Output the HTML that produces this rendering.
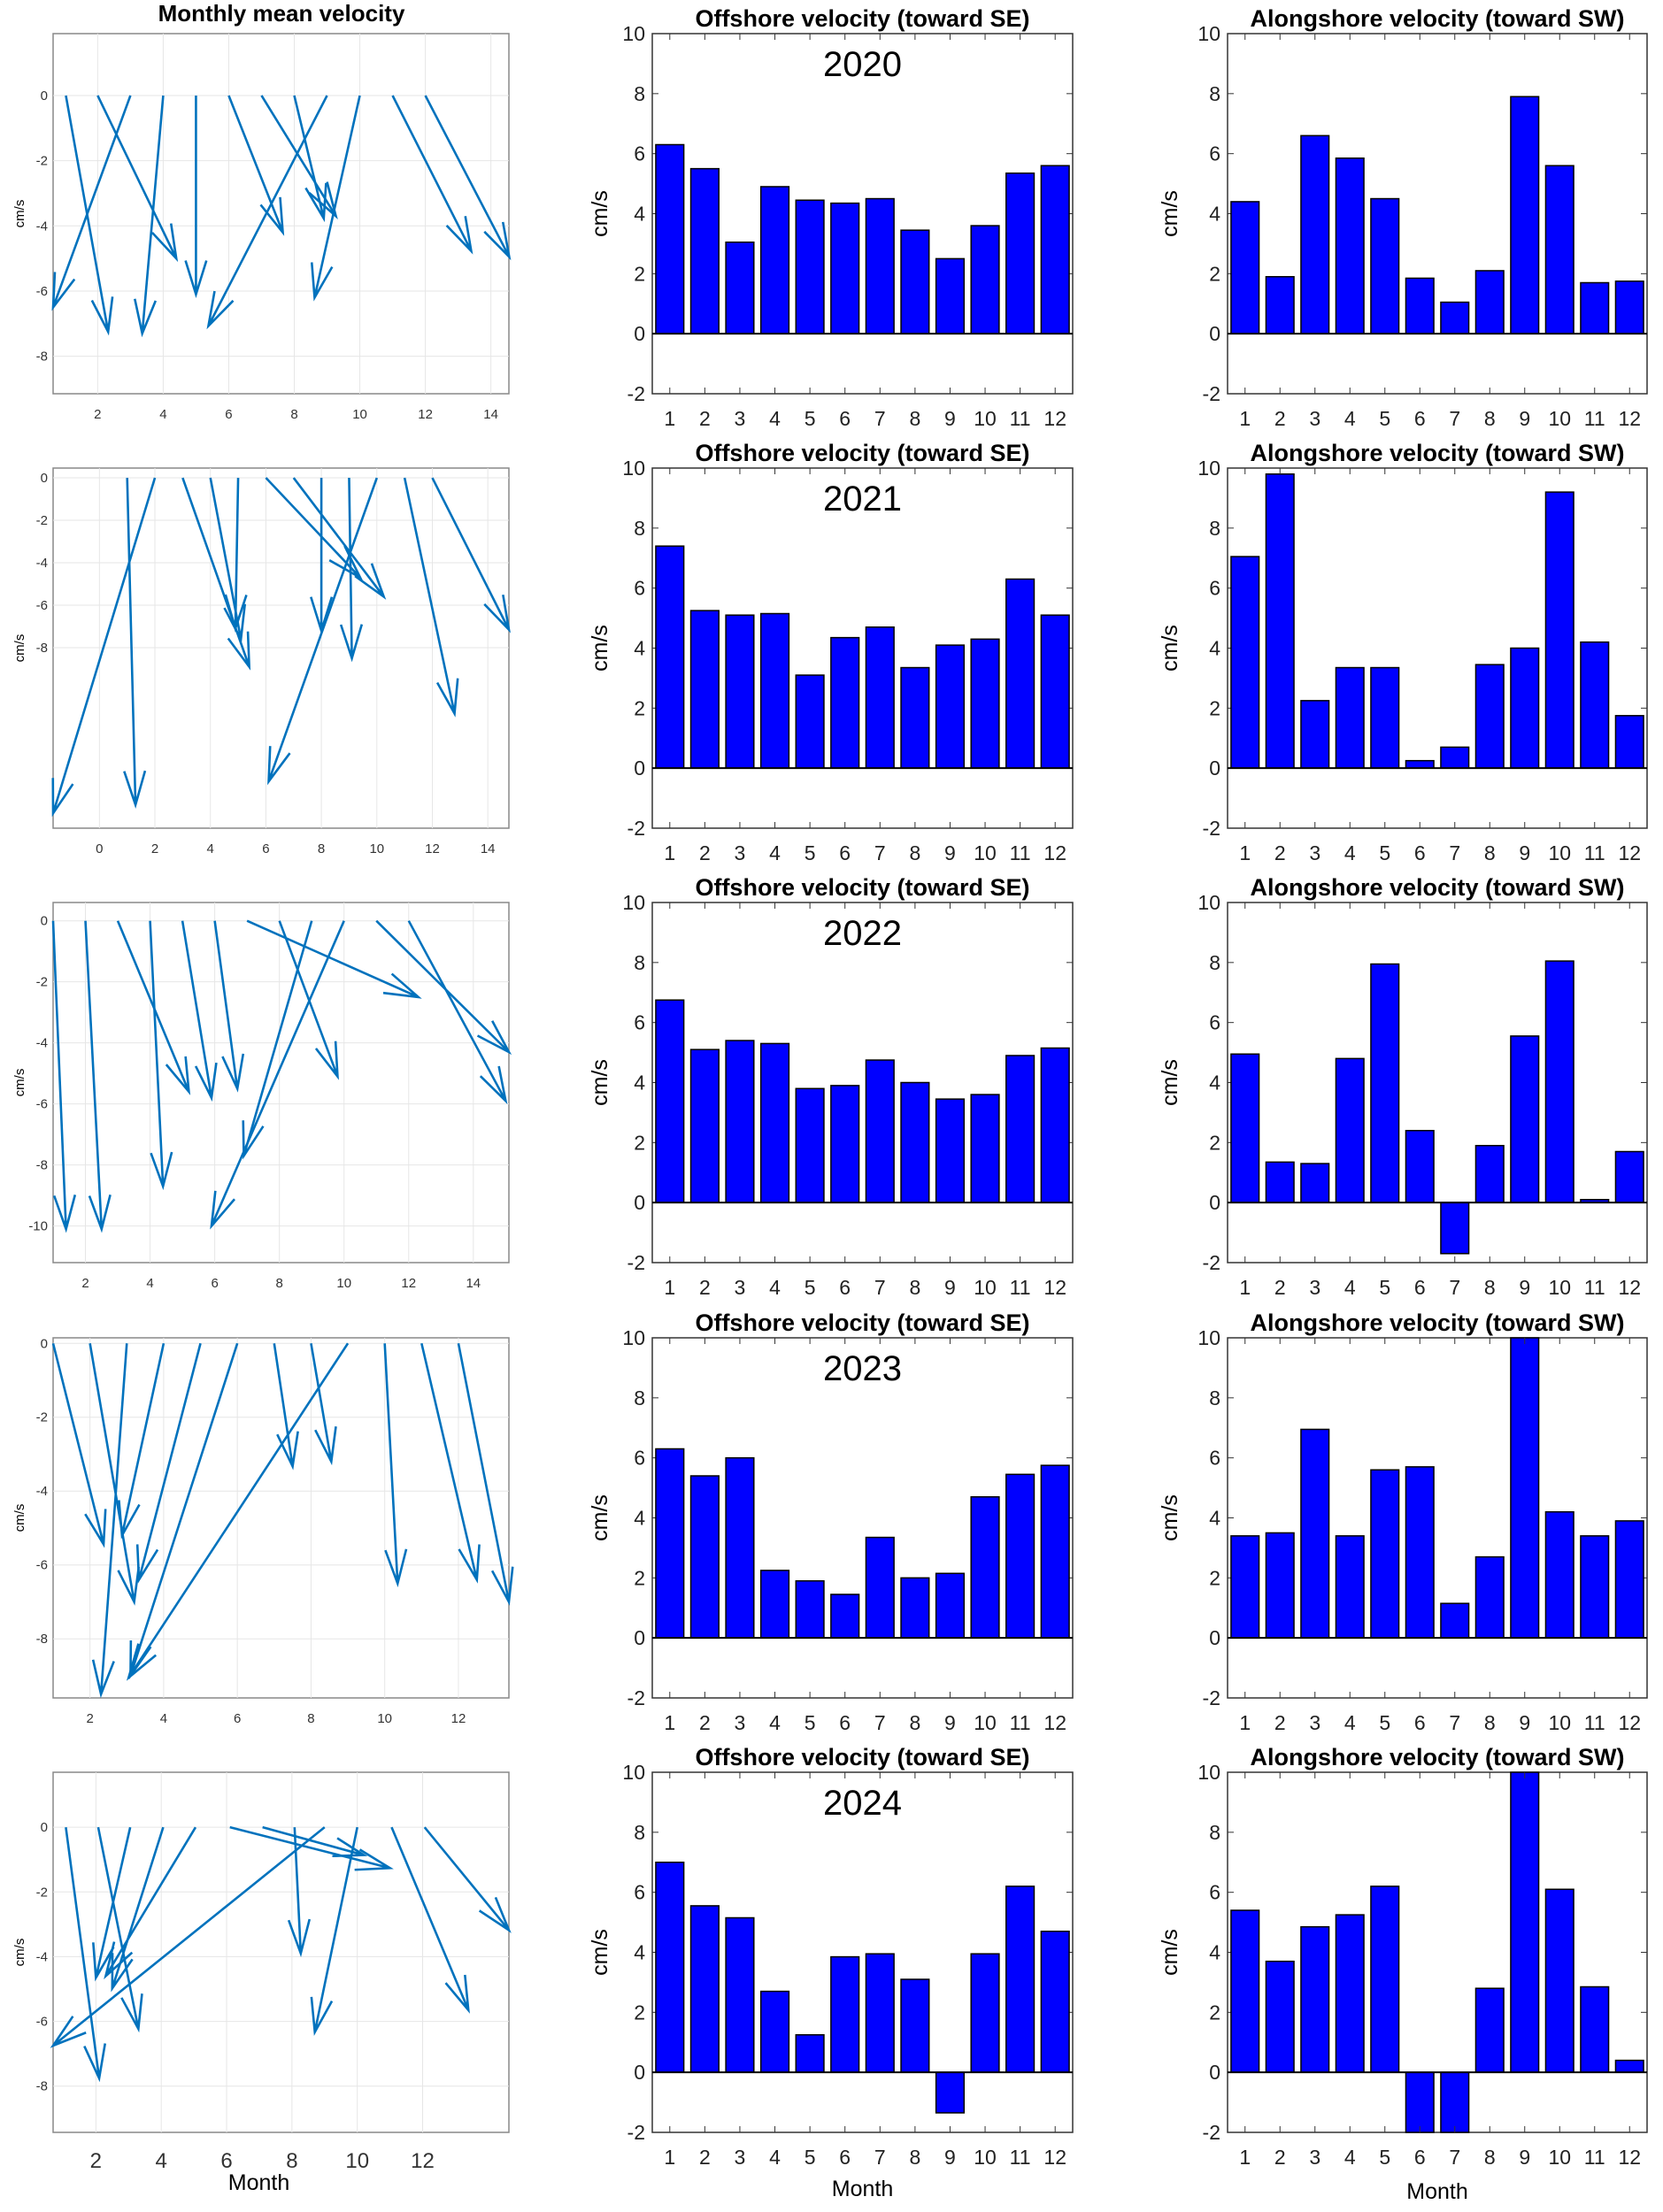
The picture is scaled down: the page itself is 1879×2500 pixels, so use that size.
<!DOCTYPE html>
<html><head><meta charset="utf-8"><style>body{margin:0;background:#fff}svg{display:block}</style></head>
<body><svg id="s" xmlns="http://www.w3.org/2000/svg" width="1879" height="2500" font-family="Liberation Sans, sans-serif"></svg>
<script>
const S=document.getElementById('s');let h='';
const rowTop=[38,529,1020,1512,2003],AH=407;
const years=['2020','2021','2022','2023','2024'];
const off=[[6.3,5.5,3.05,4.9,4.45,4.35,4.5,3.45,2.5,3.6,5.35,5.6],[7.4,5.25,5.1,5.15,3.1,4.35,4.7,3.35,4.1,4.3,6.3,5.1],[6.75,5.1,5.4,5.3,3.8,3.9,4.75,4.0,3.45,3.6,4.9,5.15],[6.3,5.4,6.0,2.25,1.9,1.45,3.35,2.0,2.15,4.7,5.45,5.75],[7.0,5.55,5.15,2.7,1.25,3.85,3.95,3.1,-1.35,3.95,6.2,4.7]];
const alo=[[4.4,1.9,6.6,5.85,4.5,1.85,1.05,2.1,7.9,5.6,1.7,1.75],[7.05,9.8,2.25,3.35,3.35,0.25,0.7,3.45,4.0,9.2,4.2,1.75],[4.95,1.35,1.3,4.8,7.95,2.4,-1.7,1.9,5.55,8.05,0.1,1.7],[3.4,3.5,6.95,3.4,5.6,5.7,1.15,2.7,10,4.2,3.4,3.9],[5.4,3.7,4.85,5.25,6.2,-2,-2,2.8,10,6.1,2.85,0.4]];
function bars(x0,w,top,data,title,ylx,yr,last,my){
  const sy=v=>top+(10-v)/12*AH, sx=v=>x0+(v-0.5)/12*w;
  h+=`<rect x="${x0}" y="${top}" width="${w}" height="${AH}" fill="#fff" stroke="#333" stroke-width="1.5"/>`;
  for(let v=-2;v<=10;v+=2){h+=`<line x1="${x0}" x2="${x0+7}" y1="${sy(v)}" y2="${sy(v)}" stroke="#333"/><line x1="${x0+w-7}" x2="${x0+w}" y1="${sy(v)}" y2="${sy(v)}" stroke="#333"/><text x="${x0-8}" y="${sy(v)+8}" font-size="23" text-anchor="end" fill="#222">${v}</text>`;}
  data.forEach((d,i)=>{const c=sx(i+1),bw=0.8*w/12;const y1=sy(Math.max(d,0)),y2=sy(Math.min(d,0));
    h+=`<rect x="${c-bw/2}" y="${y1}" width="${bw}" height="${y2-y1}" fill="#0000ff" stroke="#000" stroke-width="1.5"/>`;
    h+=`<line x1="${c}" x2="${c}" y1="${top}" y2="${top+7}" stroke="#333"/><line x1="${c}" x2="${c}" y1="${top+AH-7}" y2="${top+AH}" stroke="#333"/><text x="${c}" y="${top+AH+36}" font-size="23" text-anchor="middle" fill="#222">${i+1}</text>`;});
  h+=`<line x1="${x0}" x2="${x0+w}" y1="${sy(0)}" y2="${sy(0)}" stroke="#000" stroke-width="2"/>`;
  h+=`<text x="${x0+w/2}" y="${top-8}" font-size="27" font-weight="bold" text-anchor="middle">${title}</text>`;
  h+=`<text transform="translate(${ylx},${top+AH/2}) rotate(-90)" font-size="25" text-anchor="middle">cm/s</text>`;
  if(yr)h+=`<text x="${x0+w/2}" y="${top+48}" font-size="40" text-anchor="middle">${yr}</text>`;
  if(last)h+=`<text x="${x0+w/2}" y="${my}" font-size="25" text-anchor="middle">Month</text>`;
}
const Q=[
 {xl:[0.64,14.55],yl:[-9.15,1.9],xt:[2,4,6,8,10,12,14],yt:[0,-2,-4,-6,-8],
  a:[[1.03,2.32,-7.25],[2,4.4,-5],[3,0.64,-6.5],[4,3.36,-7.3],[5,5,-6.1],[6,7.65,-4.2],[7,9.27,-3.7],[8,8.9,-3.77],[9,5.38,-7.07],[10,8.62,-6.2],[11,13.4,-4.77],[12,14.56,-4.95]]},
 {xl:[-1.67,14.76],yl:[-16.5,0.46],xt:[0,2,4,6,8,10,12,14],yt:[0,-2,-4,-6,-8],
  a:[[1,1.3,-15.4],[2,-1.67,-15.8],[3,5.4,-8.9],[4,5.1,-7.6],[5,4.9,-7.1],[6,9.4,-4.7],[7,10.25,-5.6],[8,8,-7.2],[9,9.1,-8.5],[10,6.1,-14.3],[11,12.8,-11.1],[12,14.76,-7.15]]},
 {xl:[1,15.1],yl:[-11.2,0.6],xt:[2,4,6,8,10,12,14],yt:[0,-2,-4,-6,-8,-10],
  a:[[1,1.4,-10.1],[2,2.5,-10.1],[3,5.2,-5.6],[4,4.4,-8.7],[5,5.9,-5.8],[6,6.7,-5.5],[7,12.3,-2.5],[8,9.8,-5.1],[9,6.9,-7.7],[10,5.9,-10],[11,15.1,-4.3],[12,15,-5.9]]},
 {xl:[1,13.37],yl:[-9.6,0.15],xt:[2,4,6,8,10,12],yt:[0,-2,-4,-6,-8],
  a:[[1,2.37,-5.44],[2,3.2,-7],[3,2.3,-9.5],[4,2.87,-5.2],[5,3.33,-6.4],[6,3.1,-9],[7,7.5,-3.33],[8,8.55,-3.2],[9,3.05,-9.05],[10,10.35,-6.5],[11,12.5,-6.4],[12,13.37,-7]]},
 {xl:[0.69,14.64],yl:[-9.43,1.7],xt:[2,4,6,8,10,12],yt:[0,-2,-4,-6,-8],
  a:[[1.08,2.1,-7.76],[2.07,3.3,-6.23],[3.05,2,-4.65],[4.06,2.5,-4.98],[5.05,2.3,-4.6],[6.1,11,-1.26],[7.1,10.2,-0.86],[8.08,8.27,-3.9],[9,0.69,-6.75],[10,8.7,-6.33],[11.05,13.4,-5.65],[12.06,14.64,-3.18]]}];
function quiver(k){
  const q=Q[k],x0=60,w=515,top=rowTop[k];
  const sx=v=>x0+(v-q.xl[0])/(q.xl[1]-q.xl[0])*w, sy=v=>top+(q.yl[1]-v)/(q.yl[1]-q.yl[0])*AH;
  h+=`<rect x="${x0}" y="${top}" width="${w}" height="${AH}" fill="#fff" stroke="#888" stroke-width="1.5"/>`;
  const fs=k==4?24:15;
  q.xt.forEach(v=>{h+=`<line x1="${sx(v)}" x2="${sx(v)}" y1="${top}" y2="${top+AH}" stroke="#e6e6e6"/><text x="${sx(v)}" y="${top+AH+(k==4?40:28)}" font-size="${fs}" text-anchor="middle" fill="#333">${v}</text>`;});
  q.yt.forEach(v=>{h+=`<line x1="${x0}" x2="${x0+w}" y1="${sy(v)}" y2="${sy(v)}" stroke="#e6e6e6"/><text x="${x0-6}" y="${sy(v)+5}" font-size="15" text-anchor="end" fill="#333">${v}</text>`;});
  h+=`<text transform="translate(27,${top+AH/2}) rotate(-90)" font-size="15" text-anchor="middle">cm/s</text>`;
  q.a.forEach(([s,ex,ey])=>{const X1=sx(s),Y1=sy(0),X2=sx(ex),Y2=sy(ey);
    const ang=Math.atan2(Y2-Y1,X2-X1),L=Math.hypot(X2-X1,Y2-Y1),hl=Math.min(40,L*0.3);
    const p=a=>[X2-hl*Math.cos(ang+a),Y2-hl*Math.sin(ang+a)];const a1=p(0.3),a2=p(-0.3);
    h+=`<path d="M${X1},${Y1}L${X2},${Y2}M${a1}L${X2},${Y2}L${a2}" fill="none" stroke="#0072BD" stroke-width="2.6"/>`;});
  if(k==0)h+=`<text x="318" y="24" font-size="26" font-weight="bold" text-anchor="middle">Monthly mean velocity</text>`;
  if(k==4)h+=`<text x="${x0+w/2-25}" y="2475" font-size="25" text-anchor="middle">Month</text>`;
}
for(let k=0;k<5;k++){quiver(k);
  bars(737,475,rowTop[k],off[k],'Offshore velocity (toward SE)',686,years[k],k==4,2482);
  bars(1387,474,rowTop[k],alo[k],'Alongshore velocity (toward SW)',1330,null,k==4,2485);}
S.innerHTML=h;
</script></body></html>
